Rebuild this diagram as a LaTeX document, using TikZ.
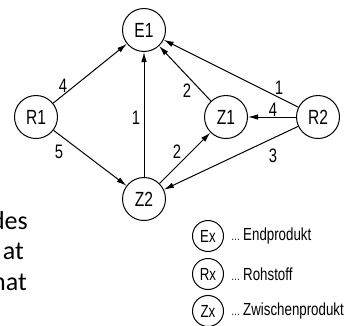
\documentclass[tikz,border=0pt]{standalone}
\usepackage{fontspec}
\setmainfont[FakeStretch=0.76]{Liberation Sans}
\newfontfamily\bodyfont{Carlito}
\usetikzlibrary{arrows.meta}
\begin{document}
\begin{tikzpicture}[x=1pt,y=-1pt,
  vertex/.style={circle,draw,line width=1pt,minimum size=43pt,inner sep=0pt,font=\fontsize{20.5}{20.5}\selectfont},
  keyvertex/.style={circle,draw,line width=1pt,minimum size=31pt,inner sep=0pt,font=\fontsize{17.5}{17.5}\selectfont},
  arr/.style={line width=1pt,-{Latex[length=10pt,width=5.5pt]}},
  wt/.style={inner sep=0pt,font=\fontsize{19.5}{19.5}\selectfont},
  keytext/.style={anchor=west,inner sep=0pt,font=\fontsize{17.5}{17.5}\selectfont},
  bodytext/.style={anchor=base east,inner sep=0pt,font=\bodyfont\fontsize{26}{26}\selectfont}]
\newcommand\keydots{{\fontsize{12}{12}\selectfont…}\,}
\useasboundingbox (0,0) rectangle (346,325);

% graph nodes
\node[vertex] (e1) at (144,30) {E1};
\node[vertex] (r1) at (36,117) {R1};
\node[vertex] (z1) at (226,117) {Z1};
\node[vertex] (r2) at (318,117) {R2};
\node[vertex] (z2) at (144,199) {Z2};

% weighted arcs
\draw[arr] (r1) -- (e1);
\draw[arr] (r1) -- (z2);
\draw[arr] (z2) -- (e1);
\draw[arr] (z2) -- (z1);
\draw[arr] (z1) -- (e1);
\draw[arr] (r2) -- (e1);
\draw[arr] (r2) -- (z1);
\draw[arr] (r2) -- (z2);

% arc weights
\node[wt] (w1) at (63,86) {4};
\node[wt] (w2) at (59,152) {5};
\node[wt] (w3) at (136,118) {1};
\node[wt] (w4) at (177,152) {2};
\node[wt] (w5) at (187,91) {2};
\node[wt] (w6) at (279,88) {1};
\node[wt] (w7) at (273,110) {4};
\node[wt] (w8) at (273,156) {3};

% legend
\node[keyvertex] (ke) at (208,236) {Ex};
\node[keytext] (te) at (231,236) {\keydots Endprodukt};
\node[keyvertex] (kr) at (208,274) {Rx};
\node[keytext] (tr) at (231,274) {\keydots Rohstoff};
\node[keyvertex] (kz) at (208,311) {Zx};
\node[keytext] (tz) at (231,311) {\keydots Zwischenprodukt};

% running text at the left edge
\node[bodytext] (l1) at (28,229) {des};
\node[bodytext] (l2) at (24,259) {at};
\node[bodytext] (l3) at (27,290) {hat};
\end{tikzpicture}
\end{document}
